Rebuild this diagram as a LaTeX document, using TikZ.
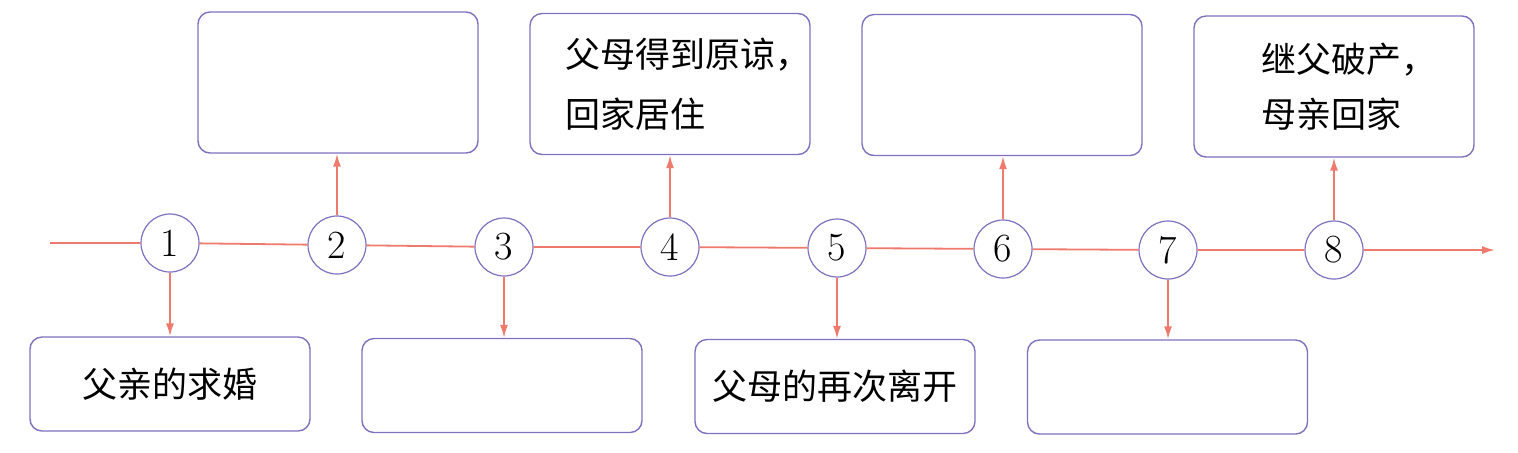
\documentclass[tikz,border=0pt]{standalone}
\usepackage{fontspec}
\newfontfamily\cjk{Noto Sans CJK SC}
\usetikzlibrary{arrows.meta}
\definecolor{lred}{RGB}{238,122,110}
\definecolor{lpurple}{RGB}{128,112,190}
\begin{document}
\begin{tikzpicture}[x=0.5pt,y=-0.5pt,
 num/.style={circle,draw=lpurple,line width=0.6pt,fill=white,minimum size=29pt,inner sep=0pt,font=\fontsize{20pt}{20pt}\selectfont},
 box/.style={draw=lpurple,line width=0.7pt,rounded corners=6pt,minimum width=140pt,align=left,font=\cjk\fontsize{17.5pt}{26.5pt}\selectfont},
 topbox/.style={box,minimum height=70.5pt},
 botbox/.style={box,minimum height=47pt},
 textbox/.style={topbox,text width=125pt,inner xsep=7.5pt},
 axis/.style={draw=lred,line width=0.9pt},
 link/.style={draw=lred,line width=0.9pt,-{Latex[length=6.5pt,width=4pt]}}]
\useasboundingbox (0,0) rectangle (1518,452);
% circles
\node[num] (n1) at (170,243) {1};
\node[num] (n2) at (337,245) {2};
\node[num] (n3) at (504,247) {3};
\node[num] (n4) at (670,247) {4};
\node[num] (n5) at (837,248) {5};
\node[num] (n6) at (1003,249) {6};
\node[num] (n7) at (1168,250) {7};
\node[num] (n8) at (1334,250) {8};
\coordinate (s) at (50,243);
\coordinate (e) at (1495,250);
% boxes
\node[topbox] (b2) at (338,82.5) {};
\node[textbox,font=\cjk\fontsize{17.5pt}{30pt}\selectfont] (b4) at (670,84) {\hspace*{10pt}父母得到原谅{，}\\\hspace*{10pt}回家居住};
\node[topbox] (b6) at (1002,85) {};
\node[textbox,font=\cjk\fontsize{17.5pt}{27.5pt}\selectfont] (b8) at (1334,86.5) {\hspace*{26pt}继父破产，\\\hspace*{26pt}母亲回家};
\node[botbox] (b1) at (170,384) {父亲的求婚};
\node[botbox] (b3) at (502,385.5) {};
\node[botbox] (b5) at (835,386.5) {父母的再次离开};
\node[botbox] (b7) at (1167.5,387) {};
% axis
\draw[axis,-{Latex[length=6.5pt,width=4pt]}] (s) -- (n1) -- (n2) -- (n3) -- (n4) -- (n5) -- (n6) -- (n7) -- (n8) -- (e);
% links
\draw[link] (n1) -- (n1 |- b1.north);
\draw[link] (n2) -- (n2 |- b2.south);
\draw[link] (n3) -- (n3 |- b3.north);
\draw[link] (n4) -- (n4 |- b4.south);
\draw[link] (n5) -- (n5 |- b5.north);
\draw[link] (n6) -- (n6 |- b6.south);
\draw[link] (n7) -- (n7 |- b7.north);
\draw[link] (n8) -- (n8 |- b8.south);
\end{tikzpicture}
\end{document}
